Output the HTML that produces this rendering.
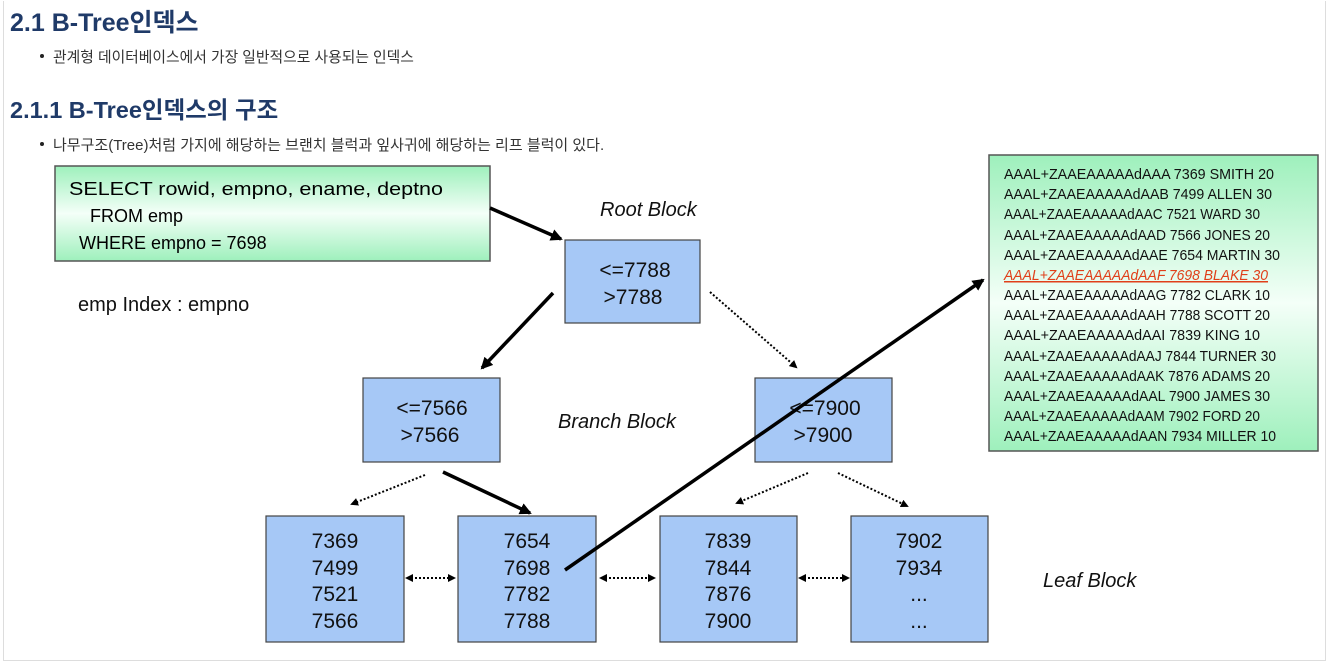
<!DOCTYPE html>
<html><head><meta charset="utf-8"><style>
html,body{margin:0;padding:0;background:#fff;}
body{width:1331px;height:664px;overflow:hidden;position:relative;font-family:"Liberation Sans","Noto Sans CJK KR",sans-serif;}
.frame{position:absolute;left:3px;top:1px;width:1321px;height:659px;border:1px solid #ddd;border-top:none;}
h1,h2{position:absolute;margin:0;color:#1f3a68;font-weight:bold;white-space:nowrap;}
.b{position:absolute;color:#333;white-space:nowrap;}
.b:before{content:"";position:absolute;left:-13px;top:8px;width:4px;height:4px;border-radius:50%;background:#222;}
</style></head><body>
<div class="frame"></div>
<h1 style="left:10px;top:3px;font-size:25px;">2.1 B-Tree인덱스</h1>
<div class="b" style="left:53px;top:46px;font-size:14.8px;">관계형 데이터베이스에서 가장 일반적으로 사용되는 인덱스</div>
<h2 style="left:10px;top:91px;font-size:23.5px;">2.1.1 B-Tree인덱스의 구조</h2>
<div class="b" style="left:53px;top:134px;font-size:15px;">나무구조(Tree)처럼 가지에 해당하는 브랜치 블럭과 잎사귀에 해당하는 리프 블럭이 있다.</div>
<svg width="1331" height="664" style="position:absolute;left:0;top:0" font-family="Liberation Sans, sans-serif">
<defs>
<linearGradient id="g" x1="0" y1="0" x2="0" y2="1">
<stop offset="0" stop-color="#9ef0bc"/><stop offset="0.5" stop-color="#f4fff8"/><stop offset="1" stop-color="#9ef0bc"/></linearGradient>
<marker id="a" markerWidth="8" markerHeight="8" refX="6" refY="4" orient="auto-start-reverse" markerUnits="userSpaceOnUse"><path d="M0,0 L8,4 L0,8 z" fill="#000"/></marker>
<marker id="s" markerWidth="12" markerHeight="12" refX="10" refY="6" orient="auto-start-reverse" markerUnits="userSpaceOnUse"><path d="M0,0 L12,6 L0,12 z" fill="#000"/></marker>
</defs>
<rect x="55" y="166" width="435" height="95" fill="url(#g)" stroke="#555" stroke-width="1.5"/>
<g font-size="18" fill="#000">
<text x="69" y="195" textLength="374" lengthAdjust="spacingAndGlyphs">SELECT rowid, empno, ename, deptno</text>
<text x="90" y="222">FROM emp</text>
<text x="79" y="249">WHERE empno = 7698</text>
</g>
<text x="78" y="311" font-size="20" fill="#111">emp Index : empno</text>
<g font-size="20" font-style="italic" fill="#111">
<text x="600" y="216">Root Block</text>
<text x="558" y="428">Branch Block</text>
<text x="1043" y="587">Leaf Block</text>
</g>
<g fill="#a6c8f6" stroke="#444" stroke-width="1.2">
<rect x="565" y="240" width="135" height="83"/>
<rect x="363" y="378" width="137" height="84"/>
<rect x="755" y="378" width="137" height="84"/>
<rect x="266" y="516" width="138" height="126"/>
<rect x="458" y="516" width="138" height="126"/>
<rect x="660" y="516" width="137" height="126"/>
<rect x="851" y="516" width="137" height="126"/>
</g>
<g font-size="21" fill="#111" text-anchor="middle">
<text x="635" y="277">&lt;=7788</text><text x="633" y="304">&gt;7788</text>
<text x="432" y="415">&lt;=7566</text><text x="430" y="442">&gt;7566</text>
<text x="825" y="415">&lt;=7900</text><text x="823" y="442">&gt;7900</text>
<text x="335" y="548">7369</text><text x="335" y="575">7499</text><text x="335" y="601">7521</text><text x="335" y="628">7566</text>
<text x="527" y="548">7654</text><text x="527" y="575">7698</text><text x="527" y="601">7782</text><text x="527" y="628">7788</text>
<text x="728" y="548">7839</text><text x="728" y="575">7844</text><text x="728" y="601">7876</text><text x="728" y="628">7900</text>
<text x="919" y="548">7902</text><text x="919" y="575">7934</text><text x="919" y="601">...</text><text x="919" y="628">...</text>
</g>
<g stroke="#000" fill="none">
<line x1="490" y1="208" x2="561" y2="239" stroke-width="3.5" marker-end="url(#s)"/>
<line x1="553" y1="293" x2="482" y2="368" stroke-width="3.5" marker-end="url(#s)"/>
<line x1="443" y1="472" x2="530" y2="513" stroke-width="3.5" marker-end="url(#s)"/>
<line x1="565" y1="570" x2="983" y2="280" stroke-width="3.5" marker-end="url(#s)"/>
<g stroke-width="2" stroke-dasharray="2,2">
<line x1="710" y1="292" x2="796" y2="367" marker-end="url(#a)"/>
<line x1="425" y1="475" x2="352" y2="504" marker-end="url(#a)"/>
<line x1="808" y1="473" x2="737" y2="503" marker-end="url(#a)"/>
<line x1="838" y1="473" x2="907" y2="506" marker-end="url(#a)"/>
<line x1="407" y1="578" x2="454" y2="578" marker-end="url(#a)" marker-start="url(#a)"/>
<line x1="601" y1="578" x2="654" y2="578" marker-end="url(#a)" marker-start="url(#a)"/>
<line x1="800" y1="578" x2="848" y2="578" marker-end="url(#a)" marker-start="url(#a)"/>
</g>
</g>
<rect x="989" y="155" width="329" height="296" fill="url(#g)" stroke="#555" stroke-width="1.5"/>
<g font-size="15" fill="#111">
<text x="1004" y="179" textLength="270" lengthAdjust="spacingAndGlyphs">AAAL+ZAAEAAAAAdAAA 7369 SMITH 20</text>
<text x="1004" y="199" textLength="268" lengthAdjust="spacingAndGlyphs">AAAL+ZAAEAAAAAdAAB 7499 ALLEN 30</text>
<text x="1004" y="219" textLength="256" lengthAdjust="spacingAndGlyphs">AAAL+ZAAEAAAAAdAAC 7521 WARD 30</text>
<text x="1004" y="240" textLength="266" lengthAdjust="spacingAndGlyphs">AAAL+ZAAEAAAAAdAAD 7566 JONES 20</text>
<text x="1004" y="260" textLength="276" lengthAdjust="spacingAndGlyphs">AAAL+ZAAEAAAAAdAAE 7654 MARTIN 30</text>
<text x="1004" y="280" textLength="264" lengthAdjust="spacingAndGlyphs" fill="#e0401a" font-style="italic" text-decoration="underline">AAAL+ZAAEAAAAAdAAF 7698 BLAKE 30</text>
<text x="1004" y="300" textLength="266" lengthAdjust="spacingAndGlyphs">AAAL+ZAAEAAAAAdAAG 7782 CLARK 10</text>
<text x="1004" y="320" textLength="266" lengthAdjust="spacingAndGlyphs">AAAL+ZAAEAAAAAdAAH 7788 SCOTT 20</text>
<text x="1004" y="340" textLength="256" lengthAdjust="spacingAndGlyphs">AAAL+ZAAEAAAAAdAAI 7839 KING 10</text>
<text x="1004" y="361" textLength="272" lengthAdjust="spacingAndGlyphs">AAAL+ZAAEAAAAAdAAJ 7844 TURNER 30</text>
<text x="1004" y="381" textLength="266" lengthAdjust="spacingAndGlyphs">AAAL+ZAAEAAAAAdAAK 7876 ADAMS 20</text>
<text x="1004" y="401" textLength="266" lengthAdjust="spacingAndGlyphs">AAAL+ZAAEAAAAAdAAL 7900 JAMES 30</text>
<text x="1004" y="421" textLength="256" lengthAdjust="spacingAndGlyphs">AAAL+ZAAEAAAAAdAAM 7902 FORD 20</text>
<text x="1004" y="441" textLength="272" lengthAdjust="spacingAndGlyphs">AAAL+ZAAEAAAAAdAAN 7934 MILLER 10</text>
</g>
</svg>
</body></html>
